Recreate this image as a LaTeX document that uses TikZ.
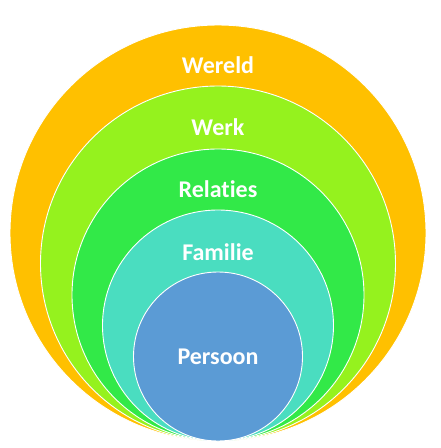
\documentclass[tikz,border=0pt]{standalone}
\usepackage{fontspec}
\newfontfamily\calibri[Ligatures=NoCommon]{Carlito}
\usepackage{tikz}
\definecolor{WorldOrange}{RGB}{255, 192, 0}
\definecolor{WorkGreen}{RGB}{149, 242, 30}
\definecolor{RelGreen}{RGB}{50, 233, 72}
\definecolor{FamTeal}{RGB}{74, 221, 192}
\definecolor{SelfBlue}{RGB}{91, 155, 213}

\begin{document}
\begin{tikzpicture}[x=1pt, y=-1pt,
  ring/.style={circle, draw=white, line width=0.9pt, inner sep=0pt},
  lab/.style={font=\calibri\bfseries\fontsize{24}{28}\selectfont, text=white}]
\useasboundingbox (0,0) rectangle (440,448);
\node[ring, fill=WorldOrange, minimum size=416pt] (wereld) at (218, 233) {};
\node[ring, fill=WorkGreen, minimum size=355pt] (werk) at (218, 263.5) {};
\node[ring, fill=RelGreen, minimum size=292pt] (relaties) at (218, 295) {};
\node[ring, fill=FamTeal, minimum size=231pt] (familie) at (218, 325.5) {};
\node[ring, fill=SelfBlue, minimum size=169pt] (persoon) at (218, 356.5) {};
\node[lab] (lwereld) at (218, 65) {Wereld};
\node[lab] (lwerk) at (218, 127) {Werk};
\node[lab] (lrelaties) at (218, 189) {Relaties};
\node[lab] (lfamilie) at (218, 252) {Familie};
\node[lab] (lpersoon) at (218, 357) {Persoon};
\end{tikzpicture}
\end{document}
